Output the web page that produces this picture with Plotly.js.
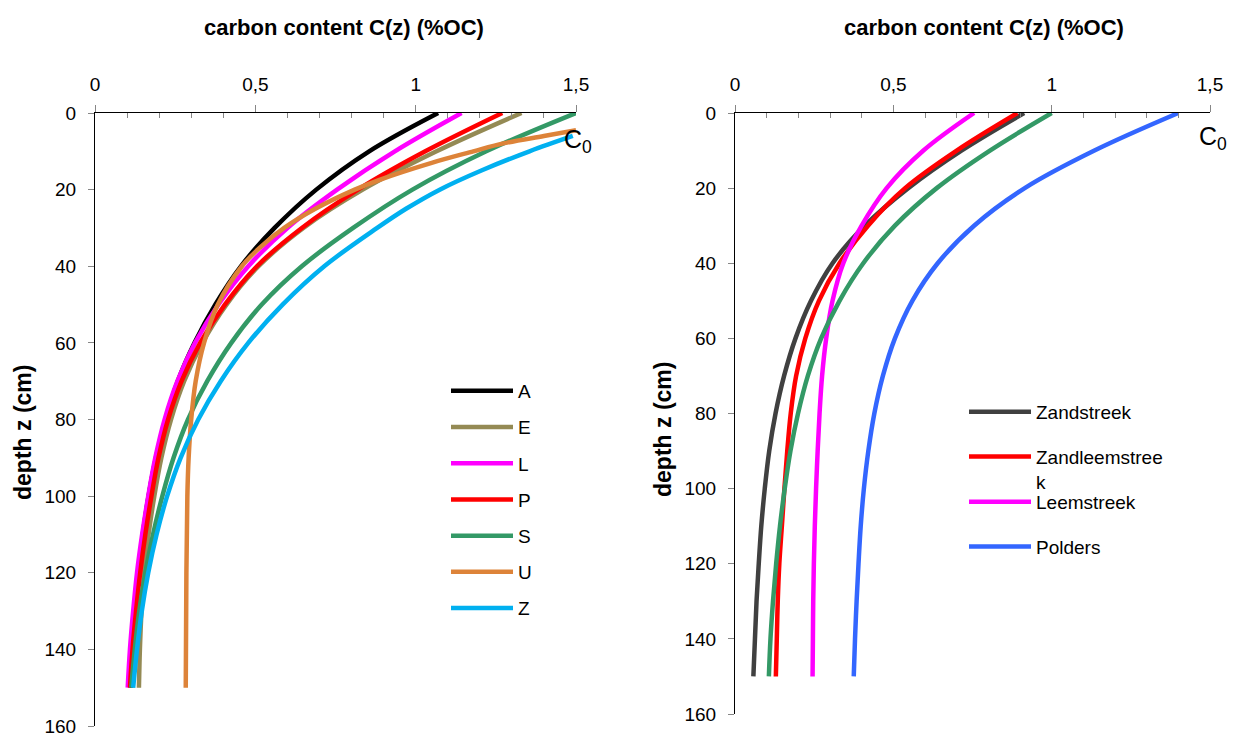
<!DOCTYPE html>
<html>
<head>
<meta charset="utf-8">
<script src="https://cdn.plot.ly/plotly-3.0.1.min.js"></script>
<style>html,body{margin:0;padding:0;background:#fff}#chart{width:1234px;height:736px}</style>
</head>
<body>
<div id="chart"></div>
<script>
// ---------- data (left panel) ----------
const depthStd = [0,10,20,30,40,50,60,70,80,90,100,110,120,130,140,150];
const leftNames = ['A','E','L','P','S','U','Z'];
const valA = [1.07,0.855,0.69,0.56,0.455,0.375,0.31,0.258,0.22,0.19,0.167,0.149,0.135,0.124,0.116,0.11];
const valE = [1.33,1.065,0.835,0.65,0.51,0.41,0.335,0.278,0.237,0.207,0.185,0.167,0.153,0.145,0.14,0.137];
const valL = [1.143,0.935,0.755,0.6,0.478,0.385,0.312,0.257,0.217,0.188,0.166,0.147,0.131,0.119,0.109,0.102];
const valP = [1.27,1.03,0.82,0.645,0.505,0.405,0.328,0.27,0.228,0.198,0.176,0.157,0.141,0.128,0.117,0.109];
const valS = [1.5,1.22,0.99,0.805,0.645,0.52,0.425,0.35,0.29,0.245,0.21,0.181,0.157,0.138,0.124,0.113];
const depthU = [4.5,6,8,10,13,17.5,20,25,30,35,40,50,60,70,80,90,100,120,150];
const valU = [1.5,1.40,1.27,1.18,1.05,0.885,0.81,0.687,0.59,0.516,0.458,0.383,0.34,0.314,0.30,0.292,0.288,0.285,0.283];
const depthZ = [6,10,15,20,25,30,40,50,60,70,80,90,100,110,120,130,140,150];
const valZ = [1.49,1.355,1.205,1.075,0.97,0.88,0.715,0.585,0.478,0.392,0.322,0.267,0.225,0.192,0.166,0.146,0.131,0.119];

// ---------- data (right panel) ----------
const rightNames = ['Zandstreek','Zandleemstree<br>k','Leemstreek','Polders','Vlaanderen'];
const valZandstreek = [0.913,0.715,0.547,0.41,0.308,0.24,0.191,0.155,0.128,0.108,0.094,0.083,0.075,0.068,0.063,0.058];
const valZandleem = [0.892,0.70,0.537,0.42,0.33,0.265,0.222,0.193,0.176,0.165,0.156,0.148,0.14,0.135,0.132,0.129];
const valLeem = [0.755,0.595,0.479,0.40,0.342,0.308,0.288,0.275,0.267,0.261,0.256,0.252,0.249,0.247,0.246,0.245];
const valPolders = [1.40,1.135,0.915,0.755,0.64,0.56,0.505,0.467,0.44,0.421,0.407,0.397,0.39,0.384,0.379,0.375];
const valVlaanderen = [1.0,0.805,0.637,0.505,0.405,0.33,0.272,0.23,0.199,0.175,0.157,0.142,0.13,0.12,0.112,0.107];

const xTicks = [0,0.5,1,1.5];
const xTickText = ['0','0,5','1','1,5'];
const xMinorTicks = [0.1,0.2,0.3,0.4,0.6,0.7,0.8,0.9,1.1,1.2,1.3,1.4];
const yTicks = [0,20,40,60,80,100,120,140,160];

// ---------- styling ----------
const FONT = 'Liberation Sans, Arial, sans-serif';
const LW = 4.5;
const leftColors = ['#000000','#948A54','#FF00FF','#FF0000','#339966','#DD8339','#00B0F0'];
const rightColors = ['#404040','#FF0000','#FF00FF','#3366FF','#339966'];

const leftX = [valA,valE,valL,valP,valS,valU,valZ];
const leftY = [depthStd,depthStd,depthStd,depthStd,depthStd,depthU,depthZ];
const traces = [];
leftNames.forEach((n,i)=>{
  traces.push({type:'scatter',mode:'lines',name:n,x:leftX[i],y:leftY[i],xaxis:'x',yaxis:'y',
    line:{color:leftColors[i],width:LW,shape:'spline',smoothing:1},
    legend:'legend',legendgroup:'L'+i,hoverinfo:'x+y+name'});
});
const rightX = [valZandstreek,valZandleem,valLeem,valPolders,valVlaanderen];
const rightLegend = ['legend2','legend2','legend3','legend3','legend3'];
rightNames.forEach((n,i)=>{
  traces.push({type:'scatter',mode:'lines',name:n,x:rightX[i],y:depthStd,xaxis:'x2',yaxis:'y2',
    line:{color:rightColors[i],width:LW,shape:'spline',smoothing:1},
    legend:rightLegend[i],legendgroup:'R'+i,showlegend:i<4,hoverinfo:'x+y+name'});
});

const W=1234,H=736;
const px = v=>v/W, py = v=>1-v/H;

function xAxis(d){
  return {domain:d,side:'top',range:[0,1.5],tickvals:xTicks,ticktext:xTickText,
    ticks:'outside',ticklen:7,tickcolor:'#868686',tickwidth:1,
    showline:true,linecolor:'#000',linewidth:1,showgrid:false,zeroline:false,
    tickfont:{family:FONT,size:19,color:'#000'},ticklabelstandoff:6,automargin:false,ticklabeloverflow:'allow',
    minor:{tickvals:xMinorTicks,ticks:'inside',ticklen:5,tickcolor:'#868686',tickwidth:1,showgrid:false},
    fixedrange:true};
}
function yAxis(d){
  return {domain:d,range:[160,0],tickvals:yTicks,ticks:'outside',ticklen:6,tickcolor:'#868686',tickwidth:1,
    showline:true,linecolor:'#000',linewidth:1,showgrid:false,zeroline:false,
    tickfont:{family:FONT,size:19,color:'#000'},ticklabelstandoff:8,automargin:false,ticklabeloverflow:'allow',fixedrange:true};
}

const legendBase = {font:{family:FONT,size:19,color:'#000'},bgcolor:'rgba(0,0,0,0)',borderwidth:0,
  traceorder:'grouped',itemwidth:62,valign:'top',xanchor:'left',yanchor:'top',itemclick:false,itemdoubleclick:false};

const layout = {
  width:W,height:H,margin:{l:0,r:0,t:0,b:0},paper_bgcolor:'#fff',plot_bgcolor:'#fff',
  separators:',.',showlegend:true,
  xaxis:Object.assign(xAxis([px(95),px(576)]),{anchor:'y'}),
  yaxis:Object.assign(yAxis([py(726),py(113)]),{anchor:'x'}),
  xaxis2:Object.assign(xAxis([px(735),px(1210)]),{anchor:'y2'}),
  yaxis2:Object.assign(yAxis([py(714),py(113)]),{anchor:'x2'}),
  legend:Object.assign({},legendBase,{x:px(446),y:py(372),tracegroupgap:8.5}),
  legend2:Object.assign({},legendBase,{x:px(964),y:py(393),tracegroupgap:17}),
  legend3:Object.assign({},legendBase,{x:px(964),y:py(483),tracegroupgap:17}),
  annotations:[
    {text:'<b>carbon content C(z) (%OC)</b>',x:px(344),y:py(27),xref:'paper',yref:'paper',showarrow:false,
     font:{family:FONT,size:22,color:'#000'},xanchor:'center',yanchor:'middle'},
    {text:'<b>carbon content C(z) (%OC)</b>',x:px(984),y:py(27),xref:'paper',yref:'paper',showarrow:false,
     font:{family:FONT,size:22,color:'#000'},xanchor:'center',yanchor:'middle'},
    {text:'<b>depth z (cm)</b>',x:px(23),y:py(433),xref:'paper',yref:'paper',showarrow:false,textangle:-90,
     font:{family:FONT,size:23,color:'#000'},xanchor:'center',yanchor:'middle'},
    {text:'<b>depth z (cm)</b>',x:px(663),y:py(430),xref:'paper',yref:'paper',showarrow:false,textangle:-90,
     font:{family:FONT,size:23,color:'#000'},xanchor:'center',yanchor:'middle'},
    {text:'C<sub>0</sub>',x:px(578),y:py(141),xref:'paper',yref:'paper',showarrow:false,
     font:{family:FONT,size:25,color:'#000'},xanchor:'center',yanchor:'middle'},
    {text:'C<sub>0</sub>',x:px(1213),y:py(138),xref:'paper',yref:'paper',showarrow:false,
     font:{family:FONT,size:25,color:'#000'},xanchor:'center',yanchor:'middle'}
  ]
};

Plotly.newPlot('chart',traces,layout,{displayModeBar:false,staticPlot:true});
</script>
</body>
</html>
